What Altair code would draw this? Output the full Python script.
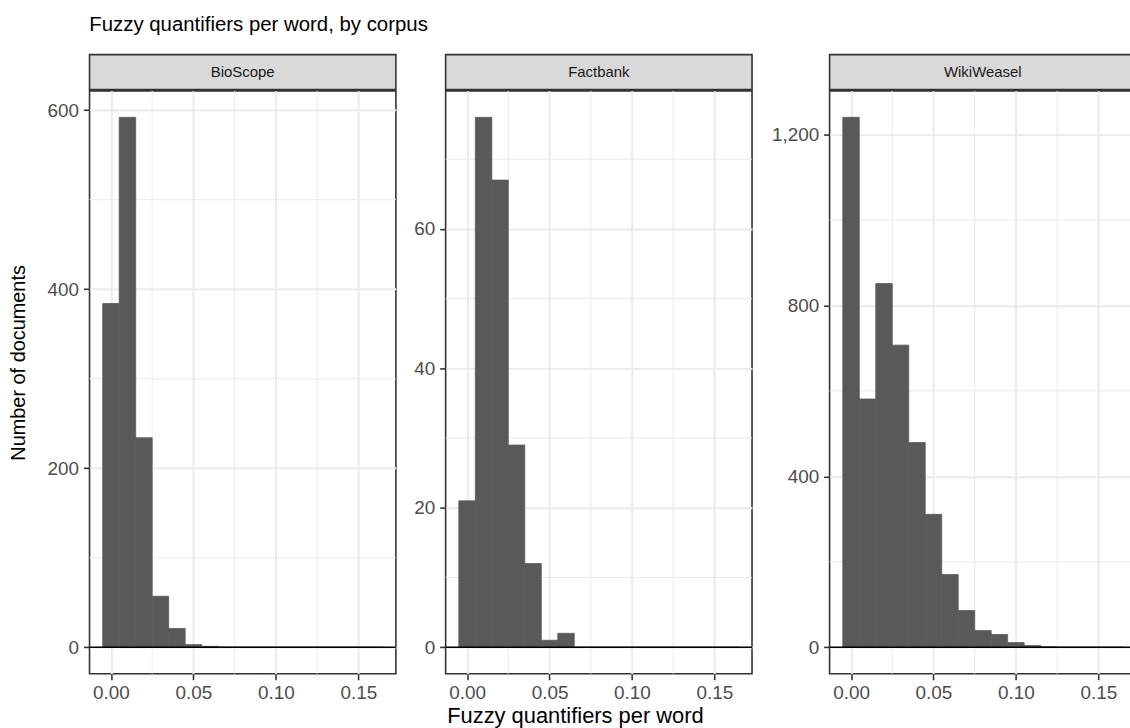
import altair as alt
import pandas as pd

FONT = "Liberation Sans"

# Histogram bins (bin width 0.01, labelled by bin centre)
bin_centers = [0.00, 0.01, 0.02, 0.03, 0.04, 0.05, 0.06, 0.07, 0.08,
               0.09, 0.10, 0.11, 0.12, 0.13, 0.14, 0.15, 0.16]
bin_width = 0.01

bioscope_counts = [384, 592, 234, 57, 21, 3, 1, 0, 0, 0, 0, 0, 0, 0, 0, 0, 0]
factbank_counts = [21, 76, 67, 29, 12, 1, 2, 0, 0, 0, 0, 0, 0, 0, 0, 0, 0]
wikiweasel_counts = [1240, 581, 851, 707, 479, 311, 170, 86, 39, 30, 11, 4, 1,
                     0, 0, 0, 0]

corpora = ["BioScope", "Factbank", "WikiWeasel"]
counts_by_corpus = {
    "BioScope": bioscope_counts,
    "Factbank": factbank_counts,
    "WikiWeasel": wikiweasel_counts,
}

x_major = [0.0, 0.05, 0.10, 0.15]
x_minor = [0.025, 0.075, 0.125]
y_major = {
    "BioScope": [0, 200, 400, 600],
    "Factbank": [0, 20, 40, 60],
    "WikiWeasel": [0, 400, 800, 1200],
}
y_minor = {
    "BioScope": [100, 300, 500],
    "Factbank": [10, 30, 50, 70],
    "WikiWeasel": [200, 600, 1000],
}
x_domain = [-0.0130, 0.1728]

# styling
BAR = "#595959"
GRID = "#EBEBEB"
BORDER = "#333333"
STRIP_FILL = "#D9D9D9"
LABEL = "#4D4D4D"
PANEL_W = 308
PANEL_H = 586
STRIP_H = 35
Y_EXTENT = {"Factbank": 46.7, "WikiWeasel": 74.5}


def make_panel(name, index):
    counts = counts_by_corpus[name]
    df = pd.DataFrame({"center": bin_centers, "count": counts})
    ymax = max(counts)
    xscale = alt.Scale(domain=x_domain, nice=False, zero=False)
    yscale = alt.Scale(domain=[-0.05 * ymax, 1.05 * ymax], nice=False, zero=False)

    xaxis_kw = dict(
        values=x_major, format=".2f", grid=True, gridColor=GRID, gridWidth=2,
        domain=False, ticks=True, tickColor=BORDER, tickWidth=1.6, tickSize=6,
        labelFont=FONT, labelFontSize=19, labelColor=LABEL, labelPadding=4,
    )
    if index == 1:
        xaxis = alt.Axis(
            title="Fuzzy quantifiers per word", titleFont=FONT, titleFontSize=22,
            titleFontWeight="normal", titleColor="black", titlePadding=3,
            titleX=130, **xaxis_kw)
    else:
        xaxis = alt.Axis(title=None, **xaxis_kw)

    yaxis_kw = dict(
        values=y_major[name], format=",d", grid=True, gridColor=GRID, gridWidth=2,
        domain=False, ticks=True, tickColor=BORDER, tickWidth=1.6, tickSize=6,
        labelFont=FONT, labelFontSize=19, labelColor=LABEL, labelPadding=5,
    )
    if index == 0:
        yaxis = alt.Axis(
            title="Number of documents", titleFont=FONT, titleFontSize=20,
            titleFontWeight="normal", titleColor="black", titleAngle=270,
            titleAlign="center", titleBaseline="middle",
            titleX=-71, titleY=273, **yaxis_kw)
    else:
        ext = Y_EXTENT[name]
        yaxis = alt.Axis(title=None, minExtent=ext, maxExtent=ext, **yaxis_kw)

    # minor grid lines first, so the bars sit on top of them
    minor_v = alt.Chart(pd.DataFrame({"v": x_minor})).mark_rule(
        color=GRID, strokeWidth=1
    ).encode(x=alt.X("v:Q", scale=xscale, axis=xaxis))

    minor_h = alt.Chart(pd.DataFrame({"v": y_minor[name]})).mark_rule(
        color=GRID, strokeWidth=1
    ).encode(y=alt.Y("v:Q", scale=yscale, axis=yaxis))

    bars = alt.Chart(df).transform_calculate(
        lo=f"datum.center - {bin_width / 2}",
        hi=f"datum.center + {bin_width / 2}",
    ).mark_rect(color=BAR, stroke=BAR, strokeWidth=0.8).encode(
        x=alt.X("lo:Q", scale=xscale, axis=xaxis),
        x2="hi:Q",
        y=alt.Y("count:Q", scale=yscale, axis=yaxis),
        y2=alt.datum(0),
    )

    baseline = alt.Chart(pd.DataFrame({"v": [0]})).mark_rule(
        color="black", strokeWidth=1.6
    ).encode(y=alt.Y("v:Q", scale=yscale, axis=yaxis))

    plot = alt.layer(minor_h, minor_v, bars, baseline).properties(
        width=PANEL_W, height=PANEL_H,
        view=alt.ViewBackground(fill="white", stroke=BORDER, strokeWidth=1.6),
    )

    strip = alt.Chart(pd.DataFrame({"corpus": [name]})).mark_text(
        font=FONT, fontSize=15, color="#1A1A1A", baseline="middle", align="center"
    ).encode(text="corpus:N").properties(
        width=PANEL_W, height=STRIP_H,
        view=alt.ViewBackground(fill=STRIP_FILL, stroke=BORDER, strokeWidth=1.6),
    )

    return alt.vconcat(strip, plot, spacing=-1.6)


panels = [make_panel(name, i) for i, name in enumerate(corpora)]

chart = alt.hconcat(*panels, spacing=0).properties(
    title=alt.TitleParams(
        "Fuzzy quantifiers per word, by corpus", anchor="start", font=FONT,
        fontSize=20.5, fontWeight="normal", color="black", dx=81.5, offset=18,
    ),
    padding={"left": 8, "top": 13, "right": -8, "bottom": 0},
    background="white",
)

chart.save("out.html", embed_options={"renderer": "svg", "actions": False})
